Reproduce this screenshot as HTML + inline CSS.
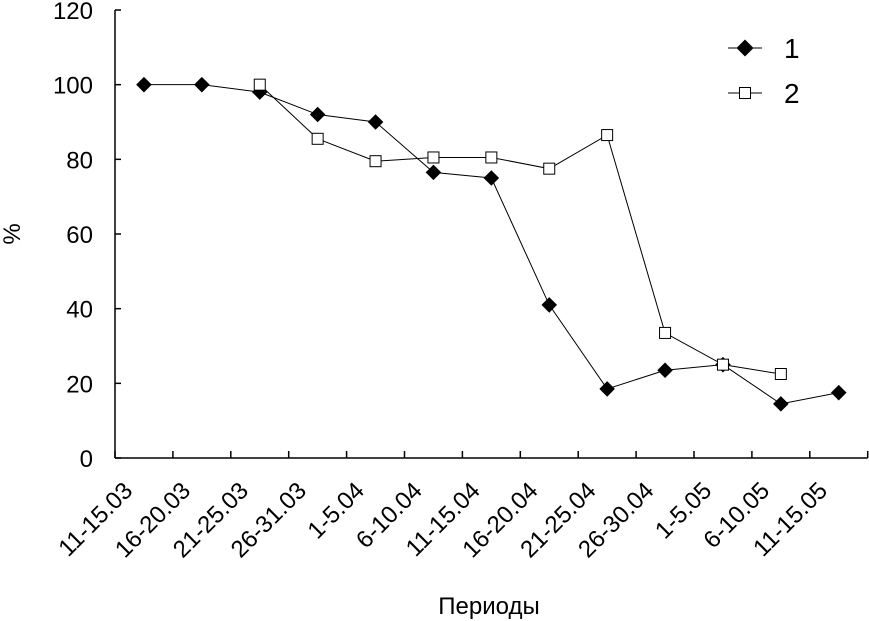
<!DOCTYPE html>
<html><head><meta charset="utf-8"><style>
html,body{margin:0;padding:0;background:#fff}
svg{display:block;font-family:"Liberation Sans",Arial,sans-serif}
</style></head><body>
<svg id="chart" width="869" height="621" viewBox="0 0 869 621">
<g id="axes"></g><g id="series"></g>
<g>
 <g>
  <line x1="728" y1="48" x2="762" y2="48" stroke="#000" stroke-width="1"/>
  <rect x="739" y="42" width="12" height="12" fill="#000" transform="rotate(45 745 48)"/>
  <text x="784" y="58" font-size="28">1</text>
 </g>
 <g>
  <line x1="728" y1="93" x2="762" y2="93" stroke="#000" stroke-width="1"/>
  <rect x="739.5" y="87.5" width="11" height="11" fill="#fff" stroke="#000" stroke-width="1"/>
  <text x="784" y="103" font-size="28">2</text>
 </g>
</g>
<text x="489" y="614" font-size="24" text-anchor="middle">Периоды</text>
<text x="20" y="234" font-size="24" text-anchor="middle" transform="rotate(-90 20 234)">%</text>
</svg>
<script>
const categories=["11-15.03","16-20.03","21-25.03","26-31.03","1-5.04","6-10.04","11-15.04","16-20.04","21-25.04","26-30.04","1-5.05","6-10.05","11-15.05"];
const series1=[100,100,98,92,90,76.5,75,41,18.5,23.5,25,14.5,17.5];
const series2=[null,null,100,85.5,79.5,80.5,80.5,77.5,86.5,33.5,25,22.5,null];
const yTicks=[0,20,40,60,80,100,120];
const NS="http://www.w3.org/2000/svg";
const x0=115,step=57.9,yBase=458,yTop=10,yMax=120;
function xs(i){return x0+step*(i+0.5);}
function ys(v){return yBase-(yBase-yTop)*v/yMax;}
function mk(tag,attrs,parent){const e=document.createElementNS(NS,tag);for(const k in attrs)e.setAttribute(k,attrs[k]);parent.appendChild(e);return e;}
const axes=document.getElementById('axes'),ser=document.getElementById('series');
const xEnd=x0+step*categories.length;
let a=mk('line',{x1:x0,y1:yTop,x2:x0,y2:yBase,stroke:'#000','stroke-width':1.5},axes);


a=mk('line',{x1:x0,y1:yBase,x2:xEnd,y2:yBase,stroke:'#000','stroke-width':1.5},axes);


yTicks.forEach(v=>{
 const y=ys(v);
 mk('line',{x1:x0,y1:y,x2:x0+6,y2:y,stroke:'#000','stroke-width':1.5},axes);
 const t=mk('text',{x:93,y:y+9,'font-size':24,'text-anchor':'end'},axes);
 t.textContent=v;
 
 
});
for(let i=0;i<=categories.length;i++){const x=x0+step*i;mk('line',{x1:x,y1:yBase,x2:x,y2:yBase-7,stroke:'#000','stroke-width':1.5},axes);}
categories.forEach((c,i)=>{
 const x=xs(i)-10,y=492;
 const t=mk('text',{x:x,y:y,'font-size':24,'text-anchor':'end',transform:`rotate(-45 ${x} ${y})`},axes);
 t.textContent=c;
 
 
});
function draw(data,filled,name){
 const pts=[];data.forEach((v,i)=>{if(v!=null)pts.push([xs(i),ys(v)]);});
 const pl=mk('polyline',{points:pts.map(p=>p.join(',')).join(' '),fill:'none',stroke:'#000','stroke-width':1},ser);
 
 
 pts.forEach(p=>{
  let m;
  if(filled) m=mk('rect',{x:p[0]-5.5,y:p[1]-5.5,width:11,height:11,fill:'#000',transform:`rotate(45 ${p[0]} ${p[1]})`},ser);
  else m=mk('rect',{x:p[0]-5.5,y:p[1]-5.5,width:11,height:11,fill:'#fff',stroke:'#000','stroke-width':1},ser);
  
  
 });
}
draw(series1,true,'series-1');
draw(series2,false,'series-2');
</script>
</body></html>
